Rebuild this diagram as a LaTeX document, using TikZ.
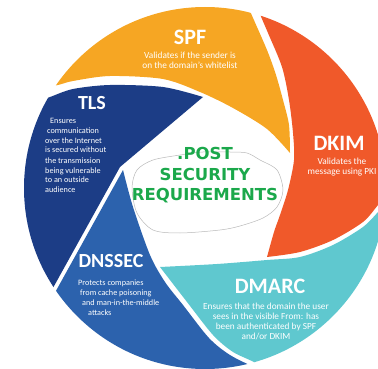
\documentclass[tikz,border=0pt]{standalone}
\usepackage{fontspec}
\newfontfamily\bladefont{Carlito}
\newfontfamily\hubfont{DejaVu Sans}
\definecolor{spfcol}{HTML}{F6A623}
\definecolor{dkimcol}{HTML}{F0592A}
\definecolor{dmarccol}{HTML}{5FC8CF}
\definecolor{dnsseccol}{HTML}{2C62AD}
\definecolor{tlscol}{HTML}{1C3D86}
\definecolor{hubgreen}{HTML}{1BA84B}
\tikzset{
  bladehead/.style={text=white,inner sep=0pt,font=\bladefont\bfseries\fontsize{22}{24}\selectfont},
  smallhead/.style={bladehead,font=\bladefont\bfseries\fontsize{20}{22}\selectfont},
  bladenote/.style={text=white,inner sep=0pt,align=center,font=\bladefont\fontsize{9.3}{10}\selectfont},
  smallnote/.style={bladenote,align=left,font=\bladefont\fontsize{8.2}{10}\selectfont},
  hubtext/.style={text=hubgreen,inner sep=0pt,align=center,font=\hubfont\bfseries\fontsize{16.5}{20}\selectfont},
  blobline/.style={draw=gray!55,line width=0.5pt}
}

\begin{document}
\begin{tikzpicture}[x=1pt,y=-1pt]
  \useasboundingbox (0,0) rectangle (378,369);
  \begin{scope}
    \clip (205,188) circle [radius=181pt];
    %% SPF
    \fill[spfcol] (0,-10) -- (246,-10)
      -- plot[smooth] coordinates {(246,0) (250,11) (267,50) (276,75) (283,100) (289,125) (290,153)}
      -- plot[smooth] coordinates {(290,153) (267,129) (233,108) (200,92) (163,79) (110,76) (73,81) (58,85) (40,88)}
      -- (0,88) -- cycle;

    %% DKIM
    \fill[dkimcol] (256,-10) -- (400,-10) -- (400,188)
      -- plot[smooth] coordinates {(392,188) (378,205) (363,222) (333,240) (300,252) (267,257)}
      -- plot[smooth] coordinates {(267,257) (274,232) (280,215) (288,190) (294,160) (293,133) (289,100) (282,67) (268,33) (260,14) (256,0)}
      -- cycle;

    %% DMARC
    \fill[dmarccol] plot[smooth] coordinates {(266,378) (257,364) (233,352) (213,335) (187,302) (160,267)}
      -- plot[smooth] coordinates {(160,267) (217,264) (267,260) (300,257) (333,245) (363,227) (378,212) (392,196)}
      -- (400,196) -- (400,390) -- (266,390) -- cycle;

    %% DNSSEC
    \fill[dnsseccol] (42,316) -- (123,170)
      -- plot[smooth] coordinates {(123,170) (133,207) (150,255) (165,282) (183,305) (209,338) (230,355) (256,368) (270,374)}
      -- (270,390) -- (0,390) -- cycle;

    %% TLS
    \fill[tlscol] (0,100) -- (38,101)
      -- plot[smooth] coordinates {(38,101) (50,97) (73,89) (110,85) (163,87) (203,97)}
      -- (120,167) -- (38,315) -- (0,315) -- cycle;
  \end{scope}

  %% hub
  \draw[blobline] plot[smooth cycle] coordinates {(132,188) (137,170) (153,160) (180,155) (203,152) (230,152) (247,153) (260,160) (277,170) (283,190) (277,207) (263,218) (240,226) (220,230) (180,233) (153,230) (137,213)};
  \node[hubtext,anchor=base] (hub) at (205,200) {.POST\\SECURITY\\REQUIREMENTS};

  %% labels (base = last line)
  \node[bladehead,anchor=base] (spf) at (190,45) {SPF};
  \node[bladenote,anchor=base] (spfnote) at (190,69) {Validates if the sender is\\on the domain’s whitelist};
  \node[bladehead,anchor=base] (dkim) at (339,150) {DKIM};
  \node[bladenote,anchor=base] (dkimnote) at (342,175) {Validates the\\message using PKI};
  \node[bladehead,anchor=base] (dmarc) at (270,293) {DMARC};
  \node[bladenote,anchor=base] (dmarcnote) at (266,339) {Ensures that the domain the user\\sees in the visible From: has\\been authenticated by SPF\\and/or DKIM};
  \node[smallhead,anchor=base] (tls) at (92,110) {TLS};
  \node[smallnote,anchor=base west] (tlsnote) at (45,193) {\hspace*{5pt}Ensures\\\hspace*{2pt}communication\\over the Internet\\is secured without\\the transmission\\being vulnerable\\to an outside\\audience};
  \node[smallhead,anchor=base] (dnssec) at (111,267) {DNSSEC};
  \node[smallnote,anchor=base west] (dnssecnote) at (78,315) {Protects companies\\\hspace*{2pt}from cache poisoning\\\hspace*{4pt}and man-in-the-middle\\\hspace*{10pt}attacks};
\end{tikzpicture}
\end{document}
